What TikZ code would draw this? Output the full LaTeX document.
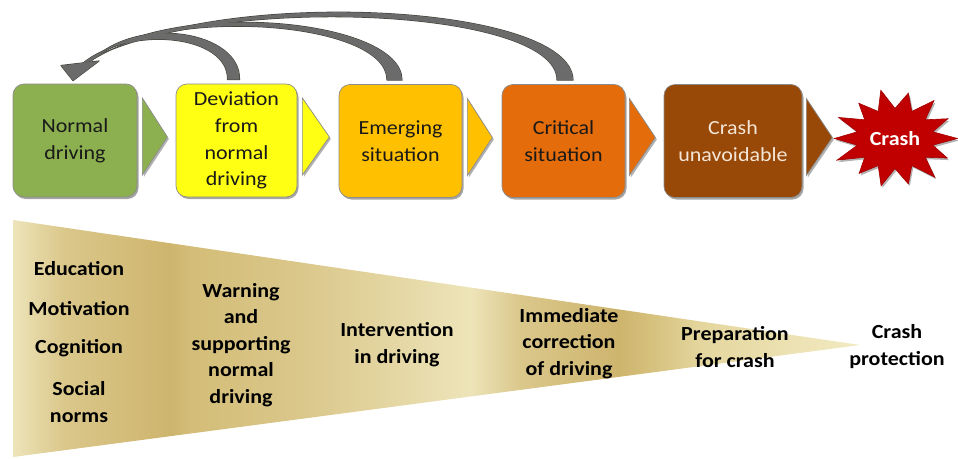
\documentclass[tikz,border=0pt]{standalone}
\usepackage{fontspec}
\setmainfont{Carlito}[FakeStretch=1.1]
\usetikzlibrary{shadows,calc}

\definecolor{cgreen}{HTML}{8CB050}
\definecolor{cyellow}{HTML}{FFFF14}
\definecolor{camber}{HTML}{FFC000}
\definecolor{corange}{HTML}{E46C0A}
\definecolor{cbrown}{HTML}{984807}
\definecolor{cred}{HTML}{C00000}
\definecolor{carc}{HTML}{6B6B6B}
\definecolor{carcline}{HTML}{3F3F35}
\definecolor{ccream}{HTML}{F4E6D6}
\definecolor{wlight}{RGB}{237,228,185}
\definecolor{wmed}{RGB}{218,199,138}
\definecolor{wdark}{RGB}{206,181,110}
\definecolor{wmd}{RGB}{211,189,120}
\definecolor{wlm}{RGB}{228,214,158}
\definecolor{wtip}{RGB}{242,234,194}

\pgfdeclarehorizontalshading{wedgeshade}{100bp}{%
  color(0bp)=(wlight); color(25bp)=(wlight); color(28bp)=(wmed);
  color(34.3bp)=(wdark); color(35.5bp)=(wmd); color(42bp)=(wmed);
  color(52bp)=(wlight); color(55bp)=(wmed); color(60.8bp)=(wdark);
  color(62.2bp)=(wmd); color(65.6bp)=(wlm); color(75bp)=(wtip); color(100bp)=(wtip)}

\tikzset{
  stage/.style={draw=black!45, line width=0.7pt, rounded corners=11pt,
    minimum height=113pt, align=center, text=black!90,
    font=\fontsize{20}{26.7}\selectfont,
    drop shadow={shadow xshift=1.5pt, shadow yshift=-2pt, opacity=0.35, fill=black}},
  chev/.style={draw=black!45, line width=0.7pt,
    drop shadow={shadow xshift=1.5pt, shadow yshift=-2pt, opacity=0.3, fill=black}},
  lowtxt/.style={font=\bfseries\fontsize{20}{26.5}\selectfont, align=center,
    anchor=base, text=black},
  arcedge/.style={draw=carcline, line width=1.1pt, line join=round},
  arcfill/.style={fill=carc},
  burst/.style={fill=cred, draw=cred!85!black, line width=0.6pt, line join=miter,
    drop shadow={shadow xshift=1.5pt, shadow yshift=-2pt, opacity=0.3, fill=black}}
}

\begin{document}
\begin{tikzpicture}[x=1pt,y=-1pt]
\path[use as bounding box] (0,0) rectangle (958,458);

% wedge
\shade[shading=wedgeshade] (13,220) -- (860,345) -- (13,457) -- cycle;

% stage boxes
\node[stage, fill=cgreen, minimum width=124pt] (b1) at (75,140.5) {Normal\\driving};
\node[stage, fill=cyellow, minimum width=121pt] (b2) at (236.5,140.5) {Deviation\\from\\normal\\driving};
\node[stage, fill=camber, minimum width=123pt] (b3) at (400.5,141) {Emerging\\situation};
\node[stage, fill=corange, minimum width=123pt] (b4) at (563.5,141) {Critical\\situation};
\node[stage, fill=cbrown, minimum width=138pt, text=ccream] (b5) at (733,141) {Crash\\unavoidable};

% crash starburst
\coordinate (cc) at (895,138.5);
\path[burst] ($(cc)+(62.5,0)$)
  \foreach \a/\f in {12.86/0.62, 25.71/0.93, 38.57/0.62, 51.43/1.02, 64.29/0.62, 77.14/0.96,
    90/0.62, 102.86/1.0, 115.71/0.62, 128.57/0.92, 141.43/0.62, 154.29/1.03, 167.14/0.62,
    180/0.97, 192.86/0.62, 205.71/1.0, 218.57/0.62, 231.43/0.93, 244.29/0.62, 257.14/1.02,
    270/0.62, 282.86/0.96, 295.71/0.62, 308.57/1.0, 321.43/0.62, 334.29/0.94, 347.14/0.62}
  { -- ($(cc)+({\f*62.5*cos(\a)},{\f*48.5*sin(\a)})$) } -- cycle;
\node[text=white, font=\bfseries\fontsize{20}{24}\selectfont] (crash) at (cc) {Crash};

% chevrons
\draw[chev, fill=cgreen]  ($(b1.east)+(5,-42.5)$) -- ($(b1.east)+(30,-3.5)$) -- ($(b1.east)+(5,34.5)$) -- cycle;
\draw[chev, fill=cyellow] ($(b2.east)+(5,-42.5)$) -- ($(b2.east)+(32,-3.5)$) -- ($(b2.east)+(5,34.5)$) -- cycle;
\draw[chev, fill=camber]  ($(b3.east)+(5,-42.5)$) -- ($(b3.east)+(30,-3.5)$) -- ($(b3.east)+(5,34.5)$) -- cycle;
\draw[chev, fill=corange] ($(b4.east)+(4,-42.5)$) -- ($(b4.east)+(30,-3.5)$) -- ($(b4.east)+(4,34.5)$) -- cycle;
\draw[chev, fill=cbrown]  ($(b5.east)+(4,-42.5)$) -- ($(b5.east)+(30,-3.5)$) -- ($(b5.east)+(4,34.5)$) -- cycle;

% feedback arrows
\coordinate (hR) at (92,60);
\coordinate (hL) at (82,64);
\coordinate (wL) at (61,65.5);
\coordinate (wR) at (99,61);
\coordinate (tip) at ($(b1.north)+(-2,-3)$);

\path[arcedge] ($(b2.north)+(3,-4)$) .. controls (241,32) and (140,14) .. (hR) -- (hL) .. controls (130,24) and (229,35) .. ($(b2.north)+(-9,-4)$) -- cycle;
\path[arcedge] ($(b3.north)+(1.5,-4)$) .. controls (402,18) and (170,-2) .. (hR) -- (hL) .. controls (160,4) and (388,20) .. ($(b3.north)+(-13.5,-4)$) -- cycle;
\path[arcedge] ($(b4.north)+(9.5,-4)$) .. controls (572,2) and (210,-14) .. (hR) -- (hL) .. controls (200,-8) and (558,6) .. ($(b4.north)+(-6.5,-4)$) -- cycle;
\path[arcedge] (wL) -- (wR) -- (tip) -- cycle;

\path[arcfill] ($(b2.north)+(3,-4)$) .. controls (241,32) and (140,14) .. (hR) -- (hL) .. controls (130,24) and (229,35) .. ($(b2.north)+(-9,-4)$) -- cycle;
\path[arcfill] ($(b3.north)+(1.5,-4)$) .. controls (402,18) and (170,-2) .. (hR) -- (hL) .. controls (160,4) and (388,20) .. ($(b3.north)+(-13.5,-4)$) -- cycle;
\path[arcfill] ($(b4.north)+(9.5,-4)$) .. controls (572,2) and (210,-14) .. (hR) -- (hL) .. controls (200,-8) and (558,6) .. ($(b4.north)+(-6.5,-4)$) -- cycle;
\path[arcfill] (wL) -- (wR) -- (tip) -- cycle;

% bottom texts (base = baseline of last line)
\node[lowtxt] (t1) at (79,275) {Education};
\node[lowtxt] (t2) at (79,315) {Motivation};
\node[lowtxt] (t3) at (79,353) {Cognition};
\node[lowtxt] (t4) at (79,422) {Social\\norms};
\node[lowtxt] (t5) at (241,403) {Warning\\and\\supporting\\normal\\driving};
\node[lowtxt] (t6) at (397,363) {Intervention\\in driving};
\node[lowtxt] (t7) at (569,375) {Immediate\\correction\\of driving};
\node[lowtxt] (t8) at (735,367) {Preparation\\for crash};
\node[lowtxt] (t9) at (897,365) {Crash\\protection};
\end{tikzpicture}
\end{document}
